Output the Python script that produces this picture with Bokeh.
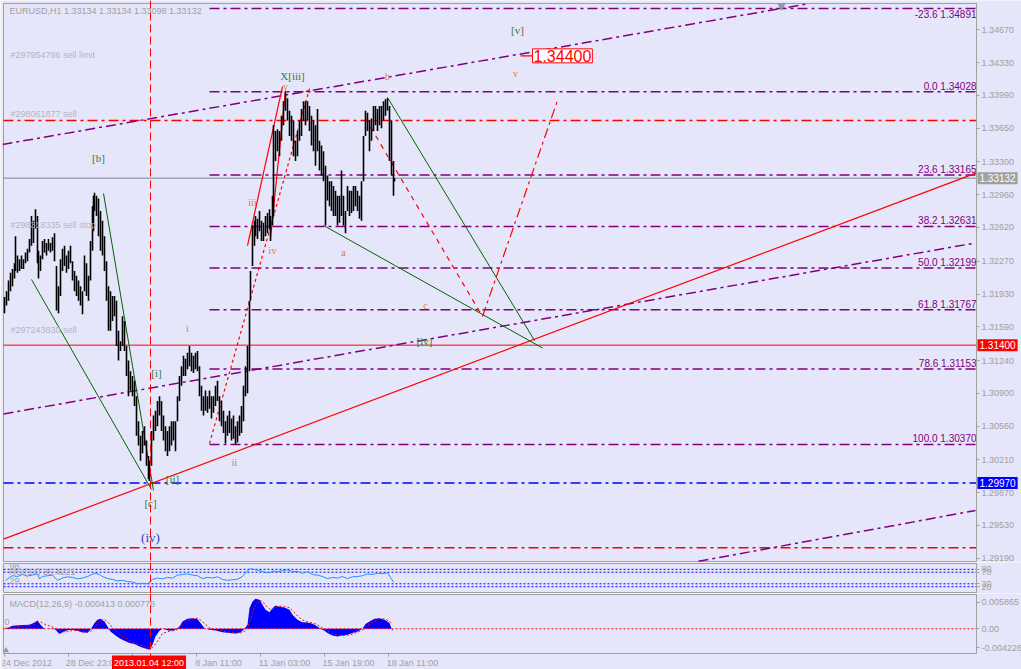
from bokeh.plotting import figure
from bokeh.layouts import column
from bokeh.models import Range1d, FixedTicker, PrintfTickFormatter, Label, Span, LinearAxis
from bokeh.core.properties import value
from bokeh.embed import file_html
from bokeh.resources import INLINE

# ---------------- data ----------------
# EURUSD H1: hour index since 24 Dec 2012 00:00, bar highs and lows
bar_hour = [
    0, 2, 4, 6, 8, 10, 11, 13, 15, 17,
    19, 21, 23, 25, 27, 29, 31, 33, 34, 36,
    38, 40, 42, 44, 46, 48, 50, 52, 54, 56,
    58, 60, 62, 64, 66, 68, 70, 72, 74, 76,
    78, 80, 82, 84, 86, 88, 89, 90, 92, 94,
    96, 98, 100, 102, 104, 106, 108, 110, 112, 114,
    116, 118, 120, 122, 124, 126, 128, 130, 132, 134,
    136, 138, 140, 142, 144, 145, 147, 149, 151, 153,
    155, 157, 159, 161, 163, 165, 167, 169, 171, 173,
    175, 177, 179, 181, 183, 185, 187, 189, 191, 193,
    195, 197, 199, 201, 203, 205, 207, 209, 211, 213,
    215, 217, 219, 221, 223, 225, 227, 229, 231, 233,
    235, 237, 239, 241, 243, 245, 246, 248, 250, 251,
    253, 255, 257, 259, 261, 263, 265, 266, 268, 269,
    271, 273, 275, 277, 279, 281, 283, 285, 287, 289,
    291, 293, 295, 297, 299, 301, 303, 305, 307, 309,
    311, 313, 315, 317, 319, 321, 323, 325, 327, 329,
    331, 333, 335, 337, 339, 341, 343, 345, 347, 349,
    351, 353, 355, 357, 359, 361, 363, 365, 367, 369,
    371, 373, 375, 377, 379, 381, 383, 385, 387, 389,
    390,
]
bar_high = [
    1.3190, 1.3196, 1.3207, 1.3215, 1.3219, 1.3225, 1.3253, 1.3233, 1.3229, 1.3233,
    1.3229, 1.3236, 1.3240, 1.3250, 1.3274, 1.3269, 1.3281, 1.3274, 1.3238, 1.3233,
    1.3248, 1.3250, 1.3246, 1.3250, 1.3246, 1.3252, 1.3256, 1.3222, 1.3201, 1.3229,
    1.3240, 1.3243, 1.3233, 1.3238, 1.3243, 1.3227, 1.3217, 1.3212, 1.3207, 1.3201,
    1.3196, 1.3233, 1.3225, 1.3212, 1.3248, 1.3284, 1.3295, 1.3298, 1.3295, 1.3292,
    1.3279, 1.3269, 1.3253, 1.3227, 1.3201, 1.3196, 1.3191, 1.3191, 1.3186, 1.3155,
    1.3144, 1.3170, 1.3165, 1.3139, 1.3124, 1.3113, 1.3108, 1.3103, 1.3087, 1.3061,
    1.3046, 1.3051, 1.3056, 1.3041, 1.3025, 1.3020, 1.3051, 1.3067, 1.3072, 1.3082,
    1.3087, 1.3082, 1.3067, 1.3056, 1.3051, 1.3056, 1.3061, 1.3061, 1.3061, 1.3087,
    1.3108, 1.3118, 1.3129, 1.3126, 1.3132, 1.3139, 1.3132, 1.3129, 1.3132, 1.3134,
    1.3118, 1.3098, 1.3087, 1.3093, 1.3087, 1.3093, 1.3087, 1.3087, 1.3098, 1.3103,
    1.3087, 1.3082, 1.3072, 1.3061, 1.3067, 1.3072, 1.3064, 1.3067, 1.3056, 1.3061,
    1.3067, 1.3077, 1.3098, 1.3118, 1.3139, 1.3186, 1.3217, 1.3264, 1.3269, 1.3274,
    1.3271, 1.3279, 1.3269, 1.3267, 1.3274, 1.3277, 1.3281, 1.3274, 1.3295, 1.3368,
    1.3362, 1.3364, 1.3362, 1.3378, 1.3393, 1.34028, 1.3396, 1.3383, 1.3378, 1.3373,
    1.3352, 1.3362, 1.3373, 1.3385, 1.3393, 1.3393, 1.3393, 1.3388, 1.3378, 1.3373,
    1.3368, 1.3385, 1.3352, 1.3347, 1.3341, 1.3326, 1.3316, 1.3310, 1.3310, 1.3305,
    1.3300, 1.3295, 1.3295, 1.3321, 1.3295, 1.3279, 1.3305, 1.3300, 1.3300, 1.3305,
    1.3305, 1.3300, 1.3295, 1.3310, 1.3357, 1.3383, 1.3381, 1.3373, 1.3375, 1.3388,
    1.3388, 1.3385, 1.3388, 1.3388, 1.3393, 1.3395, 1.3396, 1.3388, 1.3373, 1.3331,
    1.33134,
]
bar_low = [
    1.3173, 1.3181, 1.3186, 1.3196, 1.3201, 1.3209, 1.3217, 1.3215, 1.3217, 1.3219,
    1.3219, 1.3225, 1.3227, 1.3236, 1.3243, 1.3246, 1.3261, 1.3225, 1.3209, 1.3217,
    1.3229, 1.3236, 1.3233, 1.3238, 1.3236, 1.3238, 1.3227, 1.3176, 1.3173, 1.3191,
    1.3217, 1.3222, 1.3215, 1.3219, 1.3225, 1.3207, 1.3196, 1.3191, 1.3186, 1.3181,
    1.3172, 1.3196, 1.3191, 1.3186, 1.3207, 1.3238, 1.3258, 1.3279, 1.3274, 1.3253,
    1.3238, 1.3233, 1.3217, 1.3186, 1.3155, 1.3155, 1.3165, 1.3170, 1.3139, 1.3124,
    1.3134, 1.3139, 1.3134, 1.3108, 1.3087, 1.3093, 1.3087, 1.3077, 1.3046, 1.3036,
    1.3020, 1.3028, 1.3036, 1.3015, 1.3001, 1.2999, 1.3015, 1.3041, 1.3051, 1.3056,
    1.3067, 1.3051, 1.3041, 1.3030, 1.3025, 1.3030, 1.3036, 1.3041, 1.3030, 1.3061,
    1.3082, 1.3098, 1.3108, 1.3108, 1.3115, 1.3118, 1.3113, 1.3111, 1.3115, 1.3113,
    1.3087, 1.3072, 1.3067, 1.3072, 1.3070, 1.3074, 1.3064, 1.3070, 1.3077, 1.3082,
    1.3061, 1.3056, 1.3049, 1.3038, 1.3046, 1.3049, 1.3041, 1.3043, 1.3037, 1.3039,
    1.3046, 1.3049, 1.3061, 1.3087, 1.3090, 1.3113, 1.3186, 1.3222, 1.3243, 1.3253,
    1.3250, 1.3258, 1.3248, 1.3248, 1.3253, 1.3256, 1.3261, 1.3248, 1.3264, 1.3274,
    1.3331, 1.3341, 1.3336, 1.3352, 1.3368, 1.3383, 1.3373, 1.3357, 1.3352, 1.3336,
    1.3331, 1.3336, 1.3352, 1.3357, 1.3373, 1.3368, 1.3373, 1.3362, 1.3347, 1.3341,
    1.3326, 1.3341, 1.3321, 1.3316, 1.3310, 1.3264, 1.3290, 1.3284, 1.3279, 1.3274,
    1.3274, 1.3264, 1.3267, 1.3274, 1.3264, 1.3256, 1.3279, 1.3274, 1.3277, 1.3279,
    1.3284, 1.3279, 1.3271, 1.3269, 1.3310, 1.3357, 1.3362, 1.3341, 1.3352, 1.3362,
    1.3368, 1.3362, 1.3368, 1.3365, 1.3373, 1.3378, 1.3383, 1.3331, 1.3316, 1.3295,
    1.33098,
]

# RSI(14)
rsi_hour = [
    1, 5, 8, 13, 18, 23, 28, 33, 35, 38,
    43, 48, 53, 58, 63, 68, 73, 78, 83, 88,
    91, 95, 98, 103, 108, 113, 118, 123, 128, 133,
    138, 143, 148, 153, 158, 163, 168, 173, 178, 183,
    188, 193, 198, 203, 208, 213, 218, 223, 228, 233,
    238, 243, 246, 250, 255, 260, 265, 268, 273, 278,
    283, 288, 293, 298, 303, 308, 313, 318, 323, 328,
    333, 338, 343, 348, 353, 358, 363, 368, 373, 378,
    383, 386, 389,
]
rsi_value = [
    41, 52, 58, 55, 62, 57, 60, 64, 47, 55,
    58, 60, 42, 50, 54, 52, 47, 50, 55, 63,
    66, 62, 55, 48, 45, 40, 42, 38, 36, 30,
    32, 30, 45, 50, 47, 52, 50, 60, 62, 64,
    60, 58, 48, 52, 50, 54, 45, 42, 44, 46,
    55, 75, 82, 79, 76, 70, 68, 74, 72, 75,
    78, 72, 73, 66, 72, 62, 60, 55, 48, 52,
    50, 55, 48, 54, 55, 58, 64, 62, 66, 65,
    68, 52, 35.4221,
]
rsi_levels = [80, 70, 30, 20]

# MACD(12,26,9)
macd_hour = [
    1, 8, 18, 25, 30, 33, 36, 40, 48, 51,
    55, 58, 63, 68, 73, 78, 83, 86, 90, 93,
    96, 100, 103, 106, 110, 115, 120, 125, 130, 135,
    140, 145, 148, 151, 155, 158, 165, 170, 175, 178,
    183, 188, 193, 196, 200, 205, 211, 218, 225, 231,
    236, 240, 243, 245, 248, 251, 255, 258, 261, 265,
    268, 271, 275, 280, 285, 288, 293, 298, 303, 308,
    313, 316, 320, 323, 328, 333, 338, 343, 348, 353,
    358, 361, 365, 370, 375, 380, 385, 388,
]
macd_main = [
    0.0, 0.00051, 0.00063, 0.00068, 0.00108, 0.00142, 0.00068, 0.0, 0.00005, -0.00017,
    -0.00091, -0.00057, -0.00023, -0.00017, -0.00034, -0.00063, -0.00068, -0.00017, 0.00097, 0.00154,
    0.00171, 0.00125, 0.00040, -0.00046, -0.00103, -0.00160, -0.00205, -0.00245, -0.00262, -0.00302,
    -0.00331, -0.00359, -0.00274, -0.00131, -0.00034, 0.0, -0.00034, -0.00023, 0.00040, 0.00125,
    0.00171, 0.00182, 0.00165, 0.00097, 0.00011, -0.00017, -0.00028, -0.00057, -0.00074, -0.00080,
    -0.00063, 0.0, 0.00068, 0.00353, 0.00467, 0.00513, 0.00496, 0.00410, 0.00325, 0.00285,
    0.00353, 0.00399, 0.00376, 0.00365, 0.00325, 0.00239, 0.00154, 0.00114, 0.00108, 0.00086,
    0.00040, 0.0, -0.00034, -0.00074, -0.00114, -0.00131, -0.00114, -0.00103, -0.00074, -0.00046,
    0.0, 0.00080, 0.00125, 0.00171, 0.00182, 0.00154, 0.00097, -0.000413,
]
macd_signal = [
    0.0001, 0.0002, 0.0005, 0.0006, 0.0008, 0.0011, 0.0012, 0.0008, 0.0003, 0.0001,
    -0.0003, -0.0005, -0.0005, -0.0003, -0.0003, -0.0004, -0.0006, -0.0005, 0.0002, 0.0009,
    0.0014, 0.0016, 0.0012, 0.0006, -0.0002, -0.0009, -0.0015, -0.0020, -0.0024, -0.0027,
    -0.0030, -0.0033, -0.0032, -0.0026, -0.0016, -0.0008, -0.0004, -0.0003, 0.0000, 0.0007,
    0.0013, 0.0017, 0.0018, 0.0015, 0.0009, 0.0002, -0.0002, -0.0004, -0.0006, -0.0007,
    -0.0007, -0.0004, 0.0001, 0.0012, 0.0028, 0.0040, 0.0048, 0.0047, 0.0040, 0.0034,
    0.0033, 0.0037, 0.0039, 0.0038, 0.0036, 0.0031, 0.0022, 0.0015, 0.0012, 0.0010,
    0.0007, 0.0003, -0.0001, -0.0004, -0.0008, -0.0011, -0.0012, -0.0011, -0.0009, -0.0006,
    -0.0002, 0.0003, 0.0008, 0.0013, 0.0017, 0.0017, 0.0013, 0.000778,
]
macd_scale_max = 0.005865
macd_scale_min = -0.004226

price_ticks = [1.29190, 1.29530, 1.29870, 1.30210, 1.30560, 1.30900, 1.31240, 1.31590,
               1.31930, 1.32270, 1.32620, 1.32960, 1.33300, 1.33650, 1.33990, 1.34330, 1.34670]
fib_ratio = ["-23.6", "0.0", "23.6", "38.2", "50.0", "61.8", "78.6", "100.0"]
fib_price = [1.34891, 1.34028, 1.33165, 1.32631, 1.32199, 1.31767, 1.31153, 1.30370]
time_ticks = [0, 64, 128, 192, 256, 320, 384]
time_labels = ["24 Dec 2012", "28 Dec 23:00", "", "8 Jan 11:00", "11 Jan 03:00",
               "15 Jan 19:00", "18 Jan 11:00"]

last_bar = (1.33134, 1.33134, 1.33098, 1.33132)   # open, high, low, close
last_price = 1.33132
sell_open = 1.31400
support_level = 1.29970
sell_open_2 = 1.33730
stop_line = 1.29300
target_price = 1.34400
cursor_hour = 146
cursor_text = "2013.01.04 12:00"

# trend lines (hour, price) end points
channel_top = ([-2, 803], [1.33481, 1.34939])
channel_mid = ([-1, 968], [1.30687, 1.32454])
channel_low = ([694, 971], [1.29159, 1.29685])
trend_red = ([-1, 972], [1.29389, 1.33186])
green_a = ([27, 147], [1.32081, 1.29903])
green_b = ([99, 149], [1.32973, 1.29893])
green_c = ([319, 538], [1.32641, 1.31370])
green_d = ([383, 530], [1.33968, 1.31448])
wave_iii = ([243, 278], [1.32433, 1.34082])
wave_v = ([266, 281], [1.32506, 1.34041])
wave_ii_v = ([205, 305], [1.30380, 1.34061])
wave_abc_down = ([361, 478], [1.33750, 1.31697])
wave_abc_up = ([478, 553], [1.31697, 1.33937])

# ---------------- styling ----------------
BG = "#e6e6fa"
FRAME = "#a0a0a0"
AXIS_TXT = "#a0a0a0"
PURPLE = "#800080"
DASHDOT = "10 4 3 4"
SANS = "Liberation Sans"
SERIF = "Liberation Serif"
X0, X1 = -1, 972            # left and right edge of every chart window (hours)

# the scales live inside each canvas strip, so every frame spans the full width
x_range = Range1d(-2, 1017)


def style_axis(ax):
    ax.axis_line_color = FRAME
    ax.major_tick_line_color = FRAME
    ax.minor_tick_line_color = None
    ax.major_tick_out = 3
    ax.major_tick_in = 0
    ax.major_label_standoff = 2
    ax.major_label_text_font = SANS
    ax.major_label_text_font_size = "9px"
    ax.major_label_text_color = AXIS_TXT


def panel(frame_height, y_range, bottom, top):
    f = figure(frame_width=1019, frame_height=frame_height, x_range=x_range, y_range=y_range,
               output_backend="svg", toolbar_location=None, x_axis_location=None,
               y_axis_location=None, min_border_left=2, min_border_right=0,
               min_border_top=0, min_border_bottom=0, background_fill_color=BG,
               border_fill_color=BG, outline_line_color=None)
    f.grid.visible = False
    f.quad(left=X0, right=X1, bottom=bottom, top=top, fill_color=None, line_color=FRAME,
           line_width=1)
    f.add_layout(Span(location=cursor_hour, dimension="height", line_color="red",
                      line_dash="8 4", line_width=1))
    return f


def value_scale(fig, ticks, bounds, fmt=None, overrides=None):
    ax = LinearAxis(fixed_location=X1, ticker=FixedTicker(ticks=ticks), bounds=bounds)
    style_axis(ax)
    if fmt:
        ax.formatter = PrintfTickFormatter(format=fmt)
    if overrides:
        ax.major_label_overrides = overrides
    fig.add_layout(ax, "right")
    return ax


def hline(fig, level, color, dash="solid", width=1.0, start=X0):
    fig.segment(x0=start, x1=X1, y0=level, y1=level, line_color=color, line_dash=dash,
                line_width=width)


def put(fig, xs, ys, texts, color, size="9px", font=SANS, align="left",
        baseline="middle", style="normal"):
    fig.text(x=xs, y=ys, text=texts, text_color=color, text_font=value(font),
             text_font_size=value(size), text_align=align, text_baseline=baseline,
             text_font_style=style)


def tag(fig, x, y, text, bg, fg="white", size="10px", align="left", pad=2, border=None):
    fig.add_layout(Label(x=x, y=y, text=text, text_color=fg, text_font=SANS,
                         text_font_size=size, text_align=align, text_baseline="middle",
                         background_fill_color=bg, border_line_color=border, padding=pad))


# ---------------- main price panel ----------------
price_top, price_bottom = 1.34943, 1.29156
main = panel(562, Range1d(1.29146, 1.34974), price_bottom, price_top)
value_scale(main, price_ticks, (price_bottom, price_top), fmt="%.5f")

# horizontal levels
hline(main, sell_open_2, "red", DASHDOT, 1.5)
hline(main, support_level, "blue", DASHDOT, 1.5)
hline(main, stop_line, "red", DASHDOT, 1.5)
hline(main, last_price, "#778899")
hline(main, sell_open, "red")

# Fibonacci retracement: level names sit above their lines, the top one below it
for lvl in fib_price:
    hline(main, lvl, PURPLE, DASHDOT, 1.5, start=205)
fib_text = [f"{r} {v:.5f}" for r, v in zip(fib_ratio, fib_price)]
put(main, [X1], fib_price[:1], fib_text[:1], PURPLE, size="10px", align="right",
    baseline="top")
put(main, [X1] * (len(fib_price) - 1), fib_price[1:], fib_text[1:], PURPLE,
    size="10px", align="right", baseline="bottom")

# channel and trend lines
for xs, ys in (channel_top, channel_mid, channel_low):
    main.line(xs, ys, line_color=PURPLE, line_dash=DASHDOT, line_width=1.5)
main.line(*trend_red, line_color="red", line_width=1.2)
for xs, ys in (green_a, green_b, green_c, green_d):
    main.line(xs, ys, line_color="#006400", line_width=1)
main.line(*wave_iii, line_color="red", line_width=1.2)
main.line(*wave_v, line_color="red", line_width=1.2)
main.line(*wave_ii_v, line_color="red", line_dash="3 3", line_width=1.2)
main.line(*wave_abc_down, line_color="red", line_dash="5 5", line_width=1.2)
main.line(*wave_abc_up, line_color="red", line_dash=DASHDOT, line_width=1.2)

# price bars
main.segment(x0=bar_hour, x1=bar_hour, y0=bar_low, y1=bar_high, line_color="black",
             line_width=1.6)

# chart shift marker
main.scatter([777], [1.3492], marker="inverted_triangle", size=9, fill_color="#8b9bab",
             line_color=None)

# texts
put(main, [5], [1.34870],
    ["EURUSD,H1  " + " ".join(f"{v:.5f}" for v in last_bar)], AXIS_TXT)
put(main, [6, 6, 6, 6], [1.34404, 1.33792, 1.32651, 1.31562],
    ["#297954786 sell limit", "#298061877 sell", "#298318335 sell stop", "#297243830 sell"],
    "#b4b4c4")

put(main, [94, 288, 513, 420, 152, 168, 146],
    [1.33336, 1.34186, 1.34673, 1.31448, 1.31116, 1.30007, 1.29768],
    ["[b]", "X[iii]", "[v]", "[iv]", "[i]", "[ii]", "[c]"],
    "#3a7a3a", size="11px", font=SERIF, align="center")
put(main, [281, 383, 511, 248, 268, 339, 421, 183, 230],
    [1.34082, 1.34186, 1.34217, 1.32879, 1.32381, 1.32360, 1.31811, 1.31573, 1.30183],
    ["v", "b", "v", "iii", "iv", "a", "c", "i", "ii"],
    "#e07b39", size="10px", font=SERIF, align="center")
put(main, [146], [1.29405], ["(iv)"], "#1f3fbf", size="13px", font=SERIF, align="center")

# target price tag
main.segment(x0=[516], x1=[528], y0=[target_price], y1=[target_price], line_color="red",
             line_width=1.2)
tag(main, 528, target_price, f"{target_price:.5f}", "white", fg="red", size="16px", pad=1,
    border="red")

# price tags on the scale
for price, bg in ((last_price, "#a0a0a0"), (sell_open, "red"), (support_level, "blue")):
    tag(main, X1 + 1, price, f"{price:.5f}", bg)

# ---------------- RSI panel ----------------
rsi = panel(31, Range1d(-3.45, 103.45), 0, 100)
value_scale(rsi, rsi_levels, (0, 100))
for lvl in rsi_levels:
    hline(rsi, lvl, "blue", "2 2")
rsi.line(rsi_hour, rsi_value, line_color="#1e90ff", line_width=1)
put(rsi, [5], [69], [f"RSI(14) {rsi_value[-1]:.4f}"], AXIS_TXT)
put(rsi, [5, 5], [93, 38], ["98", "29"], AXIS_TXT)

# ---------------- MACD panel ----------------
macd = panel(76, Range1d(-0.006962, 0.006036), macd_scale_min, macd_scale_max)
value_scale(macd, [0.0045, 0.0, -0.0032], (macd_scale_min, macd_scale_max),
            overrides={0.0045: f"{macd_scale_max:.6f}", 0.0: "0.00",
                       -0.0032: f"{macd_scale_min:.6f}"})

macd.varea(x=macd_hour, y1=0, y2=macd_main, fill_color="#0000ff")
hline(macd, 0, "red", "2 2")
macd.line(macd_hour, macd_signal, line_color="red", line_dash="2 2", line_width=1)
put(macd, [5], [0.00428], [f"MACD(12,26,9) {macd_main[-1]:.6f} {macd_signal[-1]:.6f}"],
    AXIS_TXT)
put(macd, [0], [0.0011], ["0"], AXIS_TXT)
# chart end marker in the window's lower left corner
macd.scatter([1.5], [-0.00372], marker="triangle", size=6, fill_color="#8b9bab",
             line_color=None)

# time scale along the bottom edge of the MACD window
tick_axis = LinearAxis(fixed_location=macd_scale_min, ticker=FixedTicker(ticks=time_ticks),
                       major_label_overrides={t: "" for t in time_ticks}, bounds=(X0, X1))
style_axis(tick_axis)
macd.add_layout(tick_axis, "below")
# labels start at their tick, so each one is centred half its width to the right
label_centre = [t + 2 * len(s) for t, s in zip(time_ticks, time_labels)]
label_axis = LinearAxis(fixed_location=macd_scale_min, ticker=FixedTicker(ticks=label_centre),
                        major_label_overrides=dict(zip(label_centre, time_labels)))
style_axis(label_axis)
label_axis.axis_line_color = None
label_axis.major_tick_line_color = None
label_axis.major_tick_out = 0
label_axis.major_label_standoff = 4
macd.add_layout(label_axis, "below")
tag(macd, cursor_hour - 1.5, -0.005765, cursor_text, "red", size="9px", align="center")

layout = column(main, rsi, macd, spacing=0)
open("out.html", "w").write(file_html(layout, INLINE))
